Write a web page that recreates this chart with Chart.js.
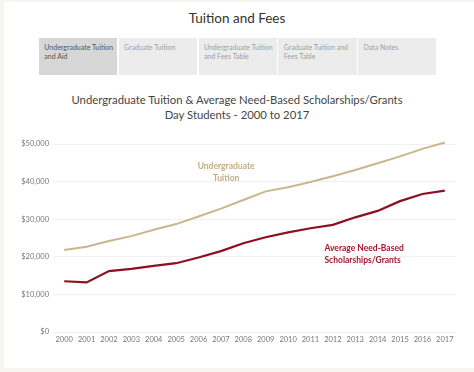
<!DOCTYPE html>
<html>
<head>
<meta charset="utf-8">
<script src="https://cdn.jsdelivr.net/npm/chart.js@4/dist/chart.umd.min.js"></script>
<style>
    html, body {
        margin: 0;
        padding: 0;
        width: 474px;
        height: 372px;
        overflow: hidden;
        background: #f6f5f0;
        font-family: Lato, "Open Sans", sans-serif;
    }

    #panel {
        position: absolute;
        left: 4px;
        top: 2px;
        width: 470px;
        height: 366px;
        background: #ffffff;
    }

    #page-title {
        position: absolute;
        left: 0;
        top: 10px;
        width: 474px;
        text-align: center;
        font-size: 13.5px;
        color: #333333;
    }

    #tabs {
        position: absolute;
        left: 39px;
        top: 38px;
        display: flex;
        gap: 1.5px;
    }

    .tab {
        width: 73px;
        padding: 5px 0 0 5.3px;
        height: 32px;
        background: #ececec;
        color: #a0a0a0;
        font-size: 7px;
        line-height: 8.7px;
    }

    .tab.active {
        background: #d7d7d7;
        color: #555555;
    }

    #chart-title {
        position: absolute;
        left: 0;
        top: 92px;
        width: 474px;
        text-align: center;
        font-size: 11.3px;
        line-height: 15px;
        color: #444444;
    }

    #chart {
        position: absolute;
        left: 0;
        top: 130px;
    }
</style>
</head>
<body>
<div id="panel"></div>
<div id="page-title">Tuition and Fees</div>
<div id="tabs"></div>
<div id="chart-title">Undergraduate Tuition &amp; Average Need-Based Scholarships/Grants<br>Day Students - 2000 to 2017</div>
<canvas id="chart" width="474" height="220"></canvas>

<script>
const TABS = [
    'Undergraduate Tuition and Aid',
    'Graduate Tuition',
    'Undergraduate Tuition and Fees Table',
    'Graduate Tuition and Fees Table',
    'Data Notes',
];

const YEARS = [
    '2000', '2001', '2002', '2003', '2004', '2005', '2006', '2007', '2008',
    '2009', '2010', '2011', '2012', '2013', '2014', '2015', '2016', '2017',
];

const TUITION = [
    21800, 22700, 24200, 25500, 27200, 28700, 30700, 32800, 35100,
    37400, 38500, 39900, 41400, 43100, 44900, 46700, 48700, 50400,
];

const SCHOLARSHIPS = [
    13500, 13200, 16200, 16800, 17600, 18300, 19800, 21500, 23600,
    25200, 26500, 27600, 28500, 30500, 32200, 34800, 36700, 37600,
];

const Y_TICKS = [0, 10000, 20000, 30000, 40000, 50000];

const TUITION_COLOR = '#c9b68b';
const SCHOLARSHIP_COLOR = '#8e0f1f';

const tabsEl = document.getElementById('tabs');
TABS.forEach((label, i) => {
    const tab = document.createElement('div');
    tab.className = i === 0 ? 'tab active' : 'tab';
    tab.textContent = label;
    tabsEl.appendChild(tab);
});

// Text labels placed next to the lines, anchored in data space
const lineLabels = {
    id: 'lineLabels',
    afterDatasetsDraw(chart) {
        const { ctx, scales } = chart;
        const x = scales.x;
        const y = scales.y;

        ctx.save();
        ctx.font = 'bold 8.5px Lato, "Open Sans", sans-serif';
        ctx.textBaseline = 'middle';

        ctx.fillStyle = '#c2ad80';
        ctx.textAlign = 'center';
        const tx = (x.getPixelForValue(7) + x.getPixelForValue(8)) / 2 - 6;
        ctx.fillText('Undergraduate', tx, y.getPixelForValue(44000));
        ctx.fillText('Tuition', tx, y.getPixelForValue(40900));

        ctx.fillStyle = '#a0182d';
        ctx.textAlign = 'left';
        const sx = x.getPixelForValue(11) + 14;
        ctx.fillText('Average Need-Based', sx, y.getPixelForValue(22200));
        ctx.fillText('Scholarships/Grants', sx, y.getPixelForValue(19100));

        ctx.restore();
    },
};

new Chart(document.getElementById('chart'), {
    type: 'line',
    data: {
        labels: YEARS,
        datasets: [
            {
                label: 'Undergraduate Tuition',
                data: TUITION,
                borderColor: TUITION_COLOR,
                borderWidth: 2,
                pointRadius: 0,
                tension: 0,
                clip: false,
            },
            {
                label: 'Average Need-Based Scholarships/Grants',
                data: SCHOLARSHIPS,
                borderColor: SCHOLARSHIP_COLOR,
                borderWidth: 2.2,
                pointRadius: 0,
                tension: 0,
                clip: false,
            },
        ],
    },
    options: {
        responsive: false,
        animation: false,
        layout: {
            padding: { top: 14, right: 18, left: 0, bottom: 0 },
        },
        plugins: {
            legend: { display: false },
            tooltip: { enabled: false },
        },
        scales: {
            x: {
                offset: true,
                grid: { display: false, drawTicks: false },
                border: { display: false },
                ticks: {
                    color: '#777777',
                    font: { size: 7.5, family: 'Lato, "Open Sans", sans-serif' },
                    padding: 3,
                    maxRotation: 0,
                    autoSkip: false,
                },
                afterFit(scale) {
                    scale.height = 18;
                },
            },
            y: {
                min: 0,
                max: 50000,
                afterBuildTicks(scale) {
                    scale.ticks = Y_TICKS.map((value) => ({ value }));
                },
                grid: {
                    color: '#f1f1f1',
                    drawTicks: false,
                },
                border: { display: false },
                ticks: {
                    color: '#777777',
                    font: { size: 7.5, family: 'Lato, "Open Sans", sans-serif' },
                    padding: 4,
                    callback: (value) => '$' + value.toLocaleString('en-US'),
                },
                afterFit(scale) {
                    scale.width = 53;
                },
            },
        },
    },
    plugins: [lineLabels],
});
</script>
</body>
</html>
